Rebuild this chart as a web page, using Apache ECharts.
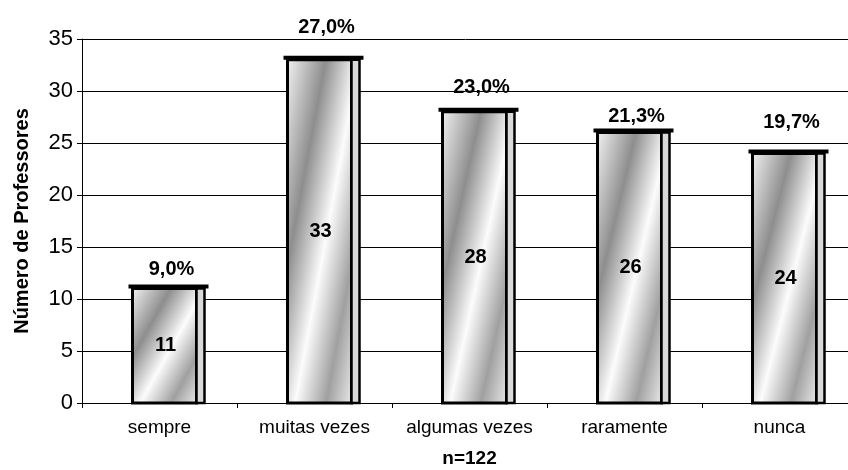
<!DOCTYPE html>
<html>
<head>
<meta charset="utf-8">
<title>Número de Professores</title>
<script src="https://cdn.jsdelivr.net/npm/echarts@6/dist/echarts.min.js"></script>
<style>
  html, body { margin: 0; padding: 0; background: #fff; }
  #chart { width: 848px; height: 470px; }
</style>
</head>
<body>
<div id="chart"></div>
<script>
// dados
const categories = ["sempre", "muitas vezes", "algumas vezes", "raramente", "nunca"];
const values = [11, 33, 28, 26, 24];
const percentLabels = ["9,0%", "27,0%", "23,0%", "21,3%", "19,7%"];
const yTicks = [0, 5, 10, 15, 20, 25, 30, 35];

// distância do rótulo de % acima da barra (px), como no original
const pctLift = [19, 32, 24, 16, 31];

const FONT = 'Arial, "Liberation Sans", sans-serif';

const chart = echarts.init(document.getElementById("chart"));

// barra "3D" com face em degradê, faixa lateral e tampa
function renderBar(params, api) {
  const i = api.value(0);
  const v = api.value(1);
  const top = api.coord([i, v]);
  const base = api.coord([i, 0]);
  const cx = top[0];
  const left = cx - 27;
  const faceRight = cx + 37;
  const right = cx + 45;
  const y0 = top[1];
  const h = base[1] - y0;
  const w = faceRight - left;

  // isolinhas paralelas à diagonal "/" da face
  const L2 = w * w + h * h;
  const gx2 = left + (2 * w * h * h) / L2;
  const gy2 = y0 + (2 * w * w * h) / L2;
  const fill = new echarts.graphic.LinearGradient(left, y0, gx2, gy2, [
    { offset: 0, color: "#f0f0f0" },
    { offset: 0.3, color: "#8e8e8e" },
    { offset: 0.56, color: "#fcfcfc" },
    { offset: 0.8, color: "#a0a0a0" },
    { offset: 1, color: "#e6e6e6" },
  ], true);

  return {
    type: "group",
    children: [
      {
        type: "rect",
        shape: { x: left, y: y0, width: w, height: h },
        style: { fill: fill, stroke: "#000", lineWidth: 3 },
      },
      {
        type: "rect",
        shape: { x: faceRight, y: y0, width: right - faceRight, height: h },
        style: { fill: "#d9d9d9", stroke: "#000", lineWidth: 2.5 },
      },
      {
        type: "rect",
        shape: { x: left - 4, y: y0 - 4, width: right - left + 8, height: 4 },
        style: { fill: "#000" },
      },
      {
        type: "text",
        x: cx + 6,
        y: y0 + h / 2,
        style: {
          text: String(v),
          font: "bold 20px " + FONT,
          fill: "#000",
          align: "center",
          verticalAlign: "middle",
        },
      },
      {
        type: "text",
        x: cx + 12,
        y: y0 - pctLift[i],
        style: {
          text: percentLabels[i],
          font: "bold 20px " + FONT,
          fill: "#000",
          align: "center",
          verticalAlign: "middle",
        },
      },
    ],
  };
}

chart.setOption({
  animation: false,
  grid: { left: 82, top: 39, width: 775, bottom: 67, outerBoundsMode: "none" },
  xAxis: {
    type: "category",
    data: categories,
    boundaryGap: true,
    name: "n=122",
    nameLocation: "middle",
    nameGap: 46,
    nameTextStyle: { color: "#000", fontWeight: "bold", fontSize: 19, fontFamily: FONT },
    axisLine: { show: true, lineStyle: { color: "#000", width: 1 } },
    axisTick: { show: true, length: 5, lineStyle: { color: "#000" } },
    axisLabel: { color: "#000", fontSize: 19, fontFamily: FONT, margin: 15, interval: 0 },
  },
  yAxis: {
    type: "value",
    min: yTicks[0],
    max: yTicks[yTicks.length - 1],
    interval: yTicks[1] - yTicks[0],
    name: "Número de Professores",
    nameLocation: "middle",
    nameGap: 50,
    nameTextStyle: { color: "#000", fontWeight: "bold", fontSize: 20, fontFamily: FONT },
    axisLine: { show: true, lineStyle: { color: "#000", width: 1 } },
    axisTick: { show: true, length: 5, lineStyle: { color: "#000" } },
    axisLabel: { color: "#000", fontSize: 22, fontFamily: FONT, margin: 9 },
    splitLine: { show: true, lineStyle: { color: "#000", width: 1 } },
  },
  series: [
    {
      type: "custom",
      renderItem: renderBar,
      encode: { x: 0, y: 1 },
      clip: false,
      data: values.map((v, i) => [i, v]),
    },
  ],
});
</script>
</body>
</html>
